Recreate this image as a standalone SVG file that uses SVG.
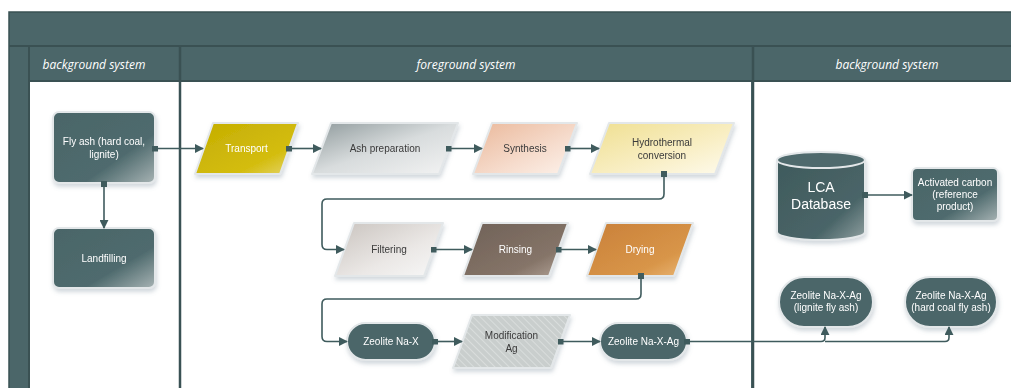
<svg xmlns="http://www.w3.org/2000/svg" width="1011" height="388" viewBox="0 0 1011 388">
<defs>
<style>
.hdr{font-family:"Open Sans","Liberation Sans",sans-serif;font-style:italic;font-size:12px;fill:#ffffff;text-anchor:middle}
.tw{font-family:"Liberation Sans",Arial,sans-serif;font-size:10px;fill:#ffffff;text-anchor:middle}
.td{font-family:"Liberation Sans",Arial,sans-serif;font-size:10px;fill:#3a3a3a;text-anchor:middle}
.edge{fill:#ffffff;stroke:#e3e7e9;stroke-width:2;stroke-linejoin:round}
.con{fill:none;stroke:#3f5b5d;stroke-width:1.6}
.band{fill:#4b6669;stroke:#3a5153;stroke-width:1.5}
</style>
<linearGradient id="gTeal" x1="0" y1="0" x2="1" y2="1">
<stop offset="0" stop-color="#4a6568"/><stop offset="0.65" stop-color="#4f6b6e"/><stop offset="1" stop-color="#a7b3b4"/></linearGradient>
<linearGradient id="gGold" x1="0" y1="0" x2="1" y2="1">
<stop offset="0" stop-color="#c4ad00"/><stop offset="0.7" stop-color="#d4bd10"/><stop offset="1" stop-color="#e6d670"/></linearGradient>
<linearGradient id="gAsh" x1="0" y1="0" x2="1" y2="1">
<stop offset="0" stop-color="#8f9a9c"/><stop offset="0.5" stop-color="#d8dcdd"/><stop offset="1" stop-color="#f4f4f4"/></linearGradient>
<linearGradient id="gSyn" x1="0" y1="0" x2="1" y2="1">
<stop offset="0" stop-color="#eab89a"/><stop offset="0.6" stop-color="#f6dccd"/><stop offset="1" stop-color="#fdf3ec"/></linearGradient>
<linearGradient id="gHyd" x1="0" y1="0" x2="1" y2="1">
<stop offset="0" stop-color="#efdf90"/><stop offset="0.6" stop-color="#f9efc6"/><stop offset="1" stop-color="#fefbee"/></linearGradient>
<linearGradient id="gFil" x1="0" y1="0" x2="1" y2="1">
<stop offset="0" stop-color="#c9c3be"/><stop offset="0.6" stop-color="#ebe8e6"/><stop offset="1" stop-color="#f8f8f8"/></linearGradient>
<linearGradient id="gRin" x1="0" y1="0" x2="1" y2="1">
<stop offset="0" stop-color="#6f6157"/><stop offset="0.7" stop-color="#857468"/><stop offset="1" stop-color="#b3a498"/></linearGradient>
<linearGradient id="gDry" x1="0" y1="0" x2="1" y2="1">
<stop offset="0" stop-color="#c9803a"/><stop offset="0.7" stop-color="#d89548"/><stop offset="1" stop-color="#ebb878"/></linearGradient>
<linearGradient id="gCyl" x1="0" y1="0" x2="1" y2="1">
<stop offset="0" stop-color="#3f5a5c"/><stop offset="0.7" stop-color="#4a6568"/><stop offset="1" stop-color="#8f9fa0"/></linearGradient>
<pattern id="hatch" width="5" height="5" patternUnits="userSpaceOnUse" patternTransform="rotate(-45)">
<rect width="5" height="5" fill="#c9cecd"/><line x1="0" y1="0" x2="0" y2="5" stroke="#dfe2e1" stroke-width="1.5"/></pattern>
<marker id="arrB" viewBox="0 0 10 10" refX="9" refY="5" markerWidth="9" markerHeight="9" orient="auto" markerUnits="userSpaceOnUse">
<path d="M0,0 L10,5 L0,10 z" fill="#3f5b5d"/></marker>
<marker id="sq" viewBox="0 0 10 10" refX="5" refY="5" markerWidth="6" markerHeight="6" markerUnits="userSpaceOnUse">
<rect width="10" height="10" fill="#3f5b5d"/></marker>
<filter id="sh" x="-20%" y="-20%" width="140%" height="150%">
<feDropShadow dx="1" dy="3" stdDeviation="2" flood-color="#6b7f90" flood-opacity="0.3"/></filter>
</defs>
<rect width="1011" height="388" fill="#ffffff"/>
<g id="pool">
<rect x="9" y="12" width="1010" height="390" class="band"/>
<rect x="29" y="81" width="150" height="320" fill="#ffffff"/>
<rect x="181" y="81" width="570" height="320" fill="#ffffff"/>
<rect x="754" y="81" width="270" height="320" fill="#ffffff"/>
<line x1="9" y1="46" x2="1011" y2="46" stroke="#3a5153" stroke-width="2"/>
<line x1="29" y1="46" x2="29" y2="388" stroke="#3a5153" stroke-width="2"/>
<line x1="180" y1="46" x2="180" y2="388" stroke="#3a5153" stroke-width="2.5"/>
<line x1="753" y1="46" x2="753" y2="388" stroke="#3a5153" stroke-width="2.5"/>
<line x1="29" y1="81" x2="1011" y2="81" stroke="#3a5153" stroke-width="2"/>
<text class="hdr" x="94" y="69">background system</text>
<text class="hdr" x="466" y="69">foreground system</text>
<text class="hdr" x="887" y="69">background system</text>
</g>
<g id="n-flyash" filter="url(#sh)">
<rect x="53" y="112" width="102" height="71" rx="6" fill="url(#gTeal)" stroke="#e3e7e9" stroke-width="2"/>
<text class="tw" x="104" y="145">Fly ash (hard coal,</text>
<text class="tw" x="104" y="158">lignite)</text>
</g>
<g id="n-landfilling" filter="url(#sh)">
<rect x="53" y="228" width="102" height="60" rx="6" fill="url(#gTeal)" stroke="#e3e7e9" stroke-width="2"/>
<text class="tw" x="104" y="262">Landfilling</text>
</g>
<g id="n-transport" filter="url(#sh)">
<polygon points="213,123 298,123 280,174 195,174" class="edge" style="fill:url(#gGold)"/>
<text class="tw" x="246.5" y="152">Transport</text>
</g>
<g id="n-ashprep" filter="url(#sh)">
<polygon points="331,123 458,123 439,174 312,174" class="edge" style="fill:url(#gAsh)"/>
<text class="td" x="385" y="152">Ash preparation</text>
</g>
<g id="n-synthesis" filter="url(#sh)">
<polygon points="492,123 577,123 558,174 473,174" class="edge" style="fill:url(#gSyn)"/>
<text class="td" x="525" y="152">Synthesis</text>
</g>
<g id="n-hydro" filter="url(#sh)">
<polygon points="609,123 734,123 715,174 590,174" class="edge" style="fill:url(#gHyd)"/>
<text class="td" x="662" y="146">Hydrothermal</text>
<text class="td" x="662" y="159">conversion</text>
</g>
<g id="n-filtering" filter="url(#sh)">
<polygon points="354,223 443,223 424,276 335,276" class="edge" style="fill:url(#gFil)"/>
<text class="td" x="389" y="253">Filtering</text>
</g>
<g id="n-rinsing" filter="url(#sh)">
<polygon points="482,223 568,223 549,276 463,276" class="edge" style="fill:url(#gRin)"/>
<text class="tw" x="515.5" y="253">Rinsing</text>
</g>
<g id="n-drying" filter="url(#sh)">
<polygon points="606,223 693,223 674,276 587,276" class="edge" style="fill:url(#gDry)"/>
<text class="tw" x="640" y="253">Drying</text>
</g>
<g id="n-zeonax" filter="url(#sh)">
<rect x="347" y="323" width="88" height="37" rx="18.5" fill="#4b6669" stroke="#e3e7e9" stroke-width="2"/>
<text class="tw" x="391" y="345">Zeolite Na-X</text>
</g>
<g id="n-modag" filter="url(#sh)">
<polygon points="472,315 570,315 551,368 453,368" class="edge" style="fill:url(#hatch)"/>
<text class="td" x="511.5" y="339">Modification</text>
<text class="td" x="511.5" y="352">Ag</text>
</g>
<g id="n-zeonaxag" filter="url(#sh)">
<rect x="600" y="323" width="87" height="37" rx="18.5" fill="#4b6669" stroke="#e3e7e9" stroke-width="2"/>
<text class="tw" x="643.5" y="345">Zeolite Na-X-Ag</text>
</g>
<g id="n-lca" filter="url(#sh)">
<path d="M777,160 V232 A44,8 0 0 0 865,232 V160" fill="url(#gCyl)" stroke="#e3e7e9" stroke-width="2"/>
<ellipse cx="821" cy="160" rx="44" ry="8" fill="#4f6a6d" stroke="#e3e7e9" stroke-width="2"/>
<text class="tw" x="821" y="192" style="font-size:14px">LCA</text>
<text class="tw" x="821" y="209" style="font-size:14px">Database</text>
</g>
<g id="n-actcarbon" filter="url(#sh)">
<rect x="912" y="168" width="86" height="53" rx="5" fill="url(#gTeal)" stroke="#e3e7e9" stroke-width="2"/>
<text class="tw" x="955" y="186">Activated carbon</text>
<text class="tw" x="955" y="198">(reference</text>
<text class="tw" x="955" y="210">product)</text>
</g>
<g id="n-lignite" filter="url(#sh)">
<rect x="779" y="277" width="94" height="50" rx="25" fill="#4b6669" stroke="#e3e7e9" stroke-width="2"/>
<text class="tw" x="826" y="299">Zeolite Na-X-Ag</text>
<text class="tw" x="826" y="311">(lignite fly ash)</text>
</g>
<g id="n-hardcoal" filter="url(#sh)">
<rect x="905" y="277" width="92" height="50" rx="25" fill="#4b6669" stroke="#e3e7e9" stroke-width="2"/>
<text class="tw" x="951" y="299">Zeolite Na-X-Ag</text>
<text class="tw" x="951" y="311">(hard coal fly ash)</text>
</g>
<g id="connectors">
<path class="con" d="M155,148.5 H203" marker-start="url(#sq)" marker-end="url(#arrB)"/>
<path class="con" d="M104,184 V228" marker-start="url(#sq)" marker-end="url(#arrB)"/>
<path class="con" d="M289,148.5 H321" marker-start="url(#sq)" marker-end="url(#arrB)"/>
<path class="con" d="M448.5,148.5 H482" marker-start="url(#sq)" marker-end="url(#arrB)"/>
<path class="con" d="M567.5,148.5 H599" marker-start="url(#sq)" marker-end="url(#arrB)"/>
<path class="con" d="M664,174 V194 Q664,199 659,199 H327 Q322,199 322,204 V244.5 Q322,249.5 327,249.5 H344" marker-start="url(#sq)" marker-end="url(#arrB)"/>
<path class="con" d="M433.5,249.5 H472" marker-start="url(#sq)" marker-end="url(#arrB)"/>
<path class="con" d="M558.5,249.5 H596" marker-start="url(#sq)" marker-end="url(#arrB)"/>
<path class="con" d="M641,276 V294 Q641,299 636,299 H327 Q322,299 322,304 V336.5 Q322,341.5 327,341.5 H347" marker-start="url(#sq)" marker-end="url(#arrB)"/>
<path class="con" d="M435,341.5 H462" marker-start="url(#sq)" marker-end="url(#arrB)"/>
<path class="con" d="M560.5,341.5 H600" marker-start="url(#sq)" marker-end="url(#arrB)"/>
<path class="con" d="M687,341.5 H821 Q825,341.5 825,337.5 V327" marker-start="url(#sq)" marker-end="url(#arrB)"/>
<path class="con" d="M825,341.5 H945 Q949,341.5 949,337.5 V327" marker-end="url(#arrB)"/>
<path class="con" d="M865,195 H912" marker-start="url(#sq)" marker-end="url(#arrB)"/>
</g>
</svg>
